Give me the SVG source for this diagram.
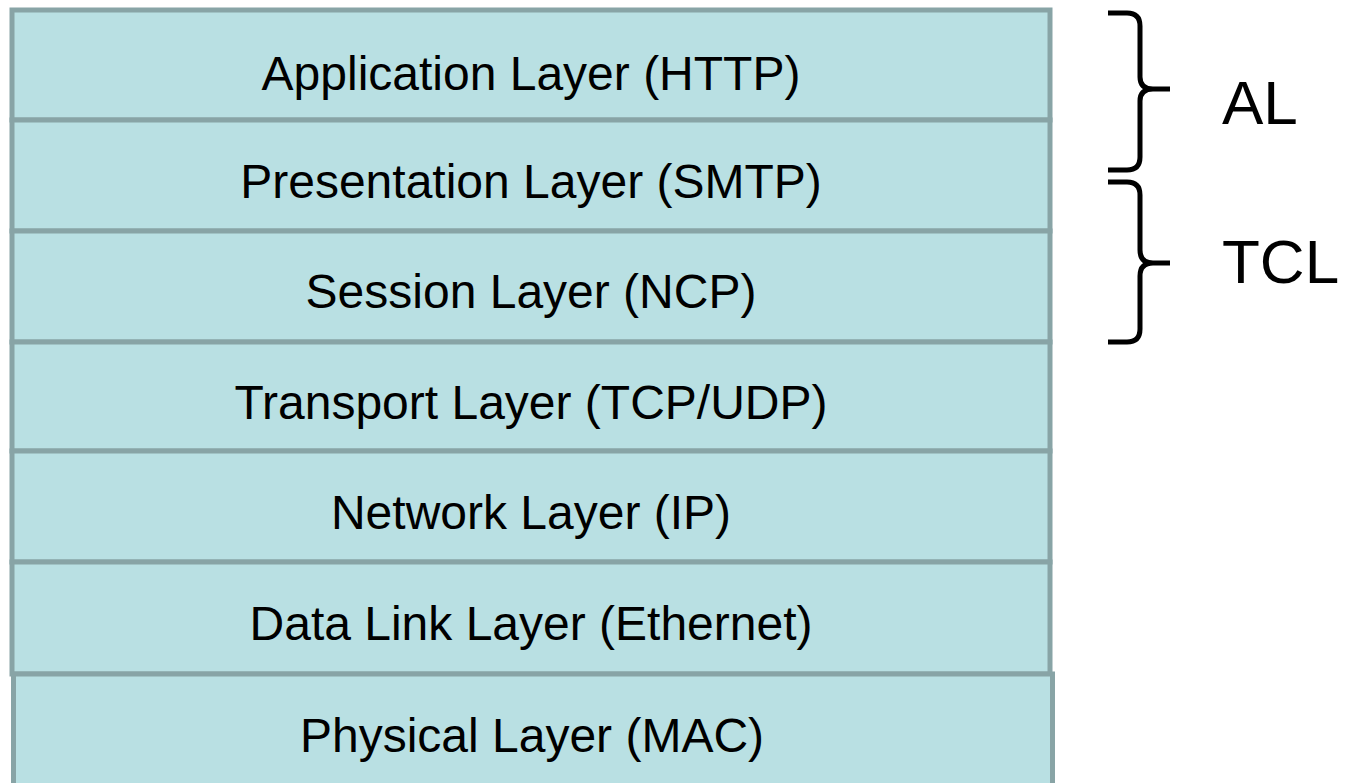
<svg xmlns="http://www.w3.org/2000/svg" width="1345" height="783" viewBox="0 0 1345 783">
<style>
.layer{fill:#b9e0e3;stroke:#88a4a6;stroke-width:5}
.lt{font-family:"Liberation Sans",Arial,sans-serif;font-size:48px;fill:#000;text-anchor:middle}
.bt{font-family:"Liberation Sans",Arial,sans-serif;font-size:62px;fill:#000}
.brace{fill:none;stroke:#000;stroke-width:5;stroke-linecap:butt;stroke-linejoin:round}
</style>
<rect width="1345" height="783" fill="#fff"/>
<g id="application"><rect class="layer" x="12" y="10" width="1038" height="110"/><text class="lt" x="531" y="90">Application Layer (HTTP)</text></g>
<g id="presentation"><rect class="layer" x="12" y="120" width="1038" height="111"/><text class="lt" x="531" y="198">Presentation Layer (SMTP)</text></g>
<g id="session"><rect class="layer" x="12" y="231" width="1038" height="111"/><text class="lt" x="531" y="308">Session Layer (NCP)</text></g>
<g id="transport"><rect class="layer" x="12" y="342" width="1038" height="109"/><text class="lt" x="531" y="419">Transport Layer (TCP/UDP)</text></g>
<g id="network"><rect class="layer" x="12" y="451" width="1038" height="111"/><text class="lt" x="531" y="529">Network Layer (IP)</text></g>
<g id="datalink"><rect class="layer" x="12" y="562" width="1038" height="112"/><text class="lt" x="531" y="640">Data Link Layer (Ethernet)</text></g>
<g id="physical"><rect class="layer" x="13.5" y="674" width="1039" height="130"/><text class="lt" x="532" y="752">Physical Layer (MAC)</text></g>
<g id="connectors">
<path class="brace" d="M1108,13 H1127 Q1140,13 1140,26 V77 Q1140,89 1153,89 H1170 M1153,89 Q1140,89 1140,101 V157 Q1140,170 1127,170 H1108"/>
<path class="brace" d="M1108,182 H1127 Q1140,182 1140,195 V250 Q1140,263 1153,263 H1170 M1153,263 Q1140,263 1140,276 V329 Q1140,342 1127,342 H1108"/>
</g>
<g id="al"><text class="bt" x="1222" y="124">AL</text></g>
<g id="tcl"><text class="bt" x="1222" y="283">TCL</text></g>
</svg>
